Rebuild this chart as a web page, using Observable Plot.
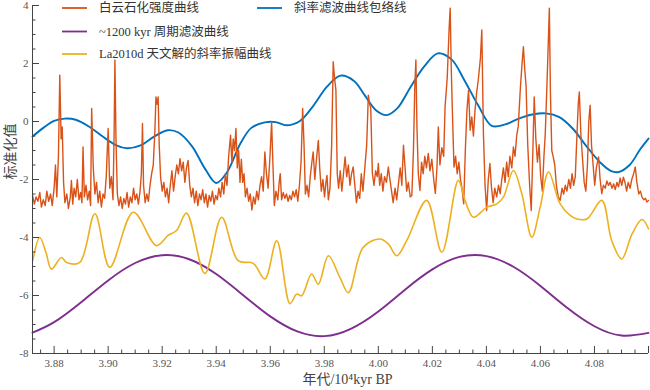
<!DOCTYPE html>
<html><head><meta charset="utf-8">
<script src="https://cdn.jsdelivr.net/npm/d3@7"></script>
<script src="https://cdn.jsdelivr.net/npm/@observablehq/plot@0.6"></script>
<style>
html,body{margin:0;padding:0;background:#fff;}
#chart{width:650px;height:390px;}
</style></head><body><div id="chart"></div>
<script>
// ---- data (age in 10^4 kyr BP, standardized value) ----
const dolomite = [
[3.8720,-2.55],[3.8727,-2.85],[3.8733,-2.60],[3.8740,-2.75],[3.8747,-2.45],[3.8753,-2.95],[3.8760,-2.70],[3.8767,-2.90],[3.8773,-2.40],[3.8780,-2.75],[3.8787,-2.50],[3.8793,-2.90],[3.8800,-2.30],[3.8805,-1.50],[3.8810,-2.60],[3.8816,-1.20],[3.8821,1.60],[3.8826,-0.60],[3.8830,-0.19],[3.8835,-2.10],[3.8840,-2.80],[3.8847,-2.50],[3.8853,-3.00],[3.8860,-2.60],[3.8864,-2.03],[3.8869,-2.85],[3.8874,-2.30],[3.8880,-2.60],[3.8886,-2.00],[3.8892,-2.70],[3.8898,-2.45],[3.8903,-2.80],[3.8907,-0.88],[3.8912,-2.60],[3.8918,-2.20],[3.8924,-2.70],[3.8930,-2.40],[3.8935,-2.90],[3.8939,0.45],[3.8945,-1.60],[3.8951,-2.50],[3.8957,-2.10],[3.8963,-2.80],[3.8969,-2.40],[3.8975,-2.95],[3.8981,-2.50],[3.8987,-2.65],[3.8993,-1.90],[3.9000,-0.24],[3.9006,-2.30],[3.9012,-1.90],[3.9018,-2.70],[3.9022,-0.50],[3.9025,2.12],[3.9029,-0.60],[3.9034,-2.50],[3.9040,-2.90],[3.9046,-2.60],[3.9052,-3.00],[3.9058,-2.65],[3.9064,-2.85],[3.9070,-2.45],[3.9076,-2.95],[3.9082,-2.60],[3.9088,-2.80],[3.9094,-2.30],[3.9100,-2.70],[3.9106,-2.50],[3.9112,-2.85],[3.9118,-2.40],[3.9123,-1.80],[3.9127,-0.07],[3.9131,-2.20],[3.9137,-2.80],[3.9143,-2.50],[3.9149,-2.75],[3.9155,-2.20],[3.9161,-1.80],[3.9167,-1.50],[3.9173,-0.30],[3.9177,0.85],[3.9181,0.60],[3.9185,0.85],[3.9189,-0.80],[3.9194,-1.90],[3.9200,-2.40],[3.9206,-2.10],[3.9212,-2.60],[3.9218,-2.30],[3.9224,-2.80],[3.9230,-2.20],[3.9236,-1.70],[3.9242,-2.40],[3.9248,-1.90],[3.9254,-1.50],[3.9260,-1.80],[3.9266,-1.28],[3.9272,-1.70],[3.9278,-1.40],[3.9284,-2.10],[3.9290,-1.60],[3.9296,-1.34],[3.9302,-2.20],[3.9308,-2.60],[3.9314,-2.30],[3.9320,-2.80],[3.9326,-2.40],[3.9332,-2.90],[3.9338,-2.50],[3.9344,-2.70],[3.9350,-2.35],[3.9356,-2.80],[3.9362,-2.50],[3.9368,-2.95],[3.9374,-2.55],[3.9380,-2.75],[3.9386,-2.40],[3.9392,-2.85],[3.9398,-2.55],[3.9404,-2.70],[3.9410,-2.30],[3.9416,-2.60],[3.9422,-2.10],[3.9428,-2.50],[3.9434,-1.80],[3.9440,-2.20],[3.9446,-1.20],[3.9453,-0.47],[3.9458,-1.40],[3.9463,-0.60],[3.9468,-1.00],[3.9473,-0.24],[3.9478,-1.60],[3.9483,-1.00],[3.9488,-2.10],
[3.9493,-1.30],[3.9498,-2.10],[3.9503,-1.80],[3.9508,-2.60],[3.9514,-2.30],[3.9520,-2.75],[3.9526,-2.50],[3.9532,-3.05],[3.9538,-2.60],[3.9544,-2.85],[3.9550,-2.40],[3.9556,-2.70],[3.9562,-2.20],[3.9568,-1.90],[3.9574,-2.40],[3.9580,-1.05],[3.9586,-1.80],[3.9592,-2.30],[3.9599,-1.20],[3.9605,-0.01],[3.9610,-1.50],[3.9615,-2.90],[3.9621,-2.40],[3.9628,-2.70],[3.9633,-2.10],[3.9637,-1.80],[3.9642,-2.70],[3.9648,-2.45],[3.9654,-2.65],[3.9660,-2.50],[3.9666,-2.75],[3.9672,-2.55],[3.9678,-2.70],[3.9684,-2.40],[3.9690,-2.60],[3.9696,-2.35],[3.9702,-2.75],[3.9708,-2.20],[3.9714,-1.40],[3.9720,0.45],[3.9725,-0.80],[3.9730,-2.50],[3.9736,-2.20],[3.9742,-2.60],[3.9748,-1.90],[3.9754,-1.40],[3.9759,-1.05],[3.9765,-2.00],[3.9771,-1.30],[3.9778,-0.65],[3.9783,-1.60],[3.9789,-2.40],[3.9795,-2.00],[3.9801,-2.60],[3.9806,-2.10],[3.9810,-1.86],[3.9815,-2.70],[3.9821,-2.30],[3.9827,-0.90],[3.9833,2.06],[3.9838,1.50],[3.9843,1.08],[3.9848,-1.80],[3.9853,-2.30],[3.9859,-1.70],[3.9865,-2.40],[3.9871,-1.80],[3.9877,-1.22],[3.9883,-1.90],[3.9889,-1.50],[3.9895,-2.20],[3.9901,-1.80],[3.9907,-1.57],[3.9913,-2.20],[3.9919,-2.80],[3.9925,-2.40],[3.9931,-2.65],[3.9937,-1.80],[3.9943,-2.40],[3.9950,-1.60],[3.9957,-0.80],[3.9963,0.91],[3.9968,0.60],[3.9972,0.45],[3.9978,-1.80],[3.9984,-2.20],[3.9990,-1.70],[3.9996,-1.90],[4.0000,-1.45],[4.0005,-2.20],[4.0011,-1.80],[4.0017,-2.40],[4.0023,-1.90],[4.0030,-2.10],[4.0037,-1.57],[4.0043,-2.00],[4.0049,-2.40],[4.0055,-2.80],[4.0062,-2.30],[4.0068,-2.70],[4.0075,-2.10],[4.0081,-1.60],[4.0087,-2.20],[4.0093,-0.82],[4.0099,-1.60],[4.0105,-2.40],[4.0111,-2.10],[4.0118,-2.60],[4.0124,-2.55],[4.0130,-1.00],[4.0135,1.20],[4.0139,2.12],[4.0143,-0.20],[4.0148,-1.80],[4.0154,-2.38],[4.0160,-1.40],[4.0166,-1.80],[4.0172,-1.20],[4.0178,-1.60],[4.0185,-1.10],[4.0191,-1.70],[4.0198,-1.30],[4.0205,-2.00],[4.0211,-2.48],[4.0217,-1.60],[4.0222,-0.19],[4.0228,-1.50],[4.0235,-0.90],[4.0242,-1.20],[4.0247,0.50],[4.0255,1.50],[4.0262,3.20],[4.0266,3.91],[4.0270,1.80],[4.0274,0.39],[4.0280,-1.57],[4.0286,-1.20],[4.0292,-1.80],[4.0298,-1.40],[4.0304,-2.00],[4.0309,-2.26],[4.0316,-2.84],[4.0322,-1.00],[4.0328,0.40],[4.0334,1.08],[4.0340,-0.30],[4.0346,0.16],[4.0352,-0.50],[4.0358,0.40],[4.0364,1.00],[4.0370,1.43],[4.0378,2.20],[4.0383,3.16],[4.0389,-0.41],[4.0395,-2.20],[4.0401,-3.07],[4.0407,-2.00],[4.0413,-1.45],[4.0419,-2.30],[4.0425,-2.80],[4.0431,-2.30],[4.0438,-2.60],[4.0445,-2.20],[4.0451,-2.49],[4.0457,-2.00],[4.0463,-1.60],[4.0469,-2.10],[4.0475,-1.40],[4.0481,-1.90],[4.0487,-1.20],[4.0494,-1.60],[4.0500,-0.88],[4.0506,-1.20],[4.0512,-0.50],[4.0518,-0.16],[4.0526,1.20],[4.0532,2.00],[4.0537,2.58],[4.0542,1.80],[4.0547,1.20],[4.0553,-0.80],[4.0560,-2.20],[4.0566,-3.07],[4.0572,-1.00],[4.0577,0.85],[4.0583,-0.60],[4.0589,-1.40],[4.0595,-0.80],[4.0601,-1.90],[4.0607,-2.40],[4.0613,-1.20],[4.0618,-0.40],[4.0625,1.50],[4.0630,3.00],[4.0633,3.91],[4.0637,1.00],[4.0642,-1.00],[4.0647,-1.20],[4.0653,-1.50],[4.0659,-2.20],[4.0666,-2.60],[4.0673,-2.72],[4.0680,-2.30],[4.0686,-2.50],[4.0692,-2.20],[4.0698,-2.40],[4.0705,-2.00],[4.0711,-2.30],[4.0717,-1.80],[4.0723,-2.20],[4.0729,-1.90],[4.0735,-0.50],[4.0740,0.60],[4.0744,1.02],[4.0750,-0.50],[4.0756,-1.30],[4.0762,-2.10],[4.0768,-2.40],[4.0774,-1.50],[4.0779,0.00],[4.0784,0.56],[4.0789,-0.80],[4.0795,-1.50],[4.0801,-2.20],[4.0807,-1.60],[4.0815,-1.22],[4.0821,-2.00],[4.0827,-2.49],[4.0833,-2.20],[4.0840,-2.30],[4.0846,-2.05],[4.0852,-2.20],[4.0858,-2.10],[4.0865,-2.30],[4.0871,-2.15],[4.0877,-2.35],[4.0883,-2.10],[4.0889,-2.25],[4.0895,-1.95],[4.0901,-2.20],[4.0907,-1.92],[4.0913,-2.10],[4.0919,-2.40],[4.0925,-2.10],[4.0932,-2.30],[4.0938,-2.00],[4.0945,-1.80],[4.0951,-1.57],[4.0957,-2.10],[4.0964,-2.50],[4.0970,-2.40],[4.0976,-2.61],[4.0983,-2.70],[4.0989,-2.65],[4.0994,-2.78],[4.1000,-2.72]
];
const envelope = [
[3.872,-0.52],[3.876,-0.22],[3.880,0.02],[3.884,0.10],[3.888,0.06],[3.893,-0.18],[3.898,-0.52],[3.903,-0.82],[3.907,-0.92],[3.912,-0.82],[3.917,-0.52],[3.922,-0.30],[3.926,-0.38],[3.931,-0.85],[3.936,-1.65],[3.940,-2.12],[3.944,-1.75],[3.949,-0.75],[3.953,-0.22],[3.958,-0.03],[3.962,-0.02],[3.966,-0.13],[3.971,0.02],[3.976,0.55],[3.981,1.20],[3.986,1.58],[3.991,1.40],[3.995,0.90],[3.999,0.40],[4.003,0.22],[4.007,0.45],[4.012,1.20],[4.017,1.90],[4.022,2.35],[4.027,2.15],[4.032,1.40],[4.037,0.55],[4.042,-0.15],[4.047,-0.10],[4.052,0.10],[4.057,0.24],[4.062,0.28],[4.067,0.15],[4.072,-0.25],[4.077,-0.85],[4.082,-1.40],[4.086,-1.70],[4.089,-1.74],[4.093,-1.50],[4.097,-0.95],[4.100,-0.59]
];
const filter1200 = [
[3.872,-7.28],[3.880,-6.92],[3.890,-6.23],[3.900,-5.48],[3.910,-4.88],[3.920,-4.61],[3.930,-4.75],[3.940,-5.26],[3.950,-5.99],[3.960,-6.72],[3.970,-7.24],[3.980,-7.40],[3.990,-7.14],[4.000,-6.55],[4.010,-5.79],[4.020,-5.10],[4.030,-4.67],[4.040,-4.64],[4.050,-5.01],[4.060,-5.67],[4.070,-6.43],[4.080,-7.06],[4.090,-7.38],[4.100,-7.29]
];
const la2010d = [
[3.8721,-4.80],[3.8747,-4.00],[3.8770,-4.52],[3.8790,-5.09],[3.8827,-4.69],[3.8846,-4.86],[3.8895,-4.86],[3.8951,-3.18],[3.9006,-5.03],[3.9093,-3.13],[3.9179,-4.28],[3.9222,-3.93],[3.9253,-3.76],[3.9290,-3.16],[3.9358,-5.24],[3.9420,-3.30],[3.9481,-4.80],[3.9537,-4.89],[3.9580,-5.43],[3.9624,-4.11],[3.9673,-6.28],[3.9698,-5.95],[3.9716,-6.01],[3.9753,-5.26],[3.9778,-5.61],[3.9815,-4.63],[3.9858,-5.38],[3.9889,-5.90],[3.9944,-4.34],[4.0006,-4.05],[4.0037,-4.22],[4.0068,-4.63],[4.0105,-4.11],[4.0179,-2.72],[4.0235,-4.51],[4.0296,-2.03],[4.0321,-2.72],[4.0352,-3.30],[4.0401,-2.96],[4.0439,-2.84],[4.0463,-2.61],[4.0500,-1.69],[4.0531,-2.49],[4.0568,-3.99],[4.0599,-2.96],[4.0630,-1.74],[4.0673,-2.84],[4.0710,-3.24],[4.0735,-3.36],[4.0772,-3.36],[4.0827,-2.72],[4.0864,-4.11],[4.0901,-4.74],[4.0939,-3.88],[4.0976,-3.38],[4.1000,-3.70]
];
const xDomain = [3.872, 4.1];
const yDomain = [-8, 4];
const xMajor = [3.88,3.90,3.92,3.94,3.96,3.98,4.00,4.02,4.04,4.06,4.08,4.10];
const xLabels = [3.88,3.90,3.92,3.94,3.96,3.98,4.00,4.02,4.04,4.06,4.08];
const yMajor = [-8,-6,-4,-2,0,2,4];
const xMinor = d3.range(3.875, 4.1, 0.005).filter(v => Math.abs(v*100 - Math.round(v*100)) > 0.1 || Math.round(v*100)%2 !== 0);
const yMinor = d3.range(-7.5, 4, 0.5).filter(v => v % 2 !== 0);
const seriesNames = ["白云石化强度曲线", "~1200 kyr 周期滤波曲线", "La2010d 天文解的斜率振幅曲线", "斜率滤波曲线包络线"];
const seriesColors = ["#D95319", "#7E2F8E", "#EDB120", "#0072BD"];
const xTitle = "年代/10⁴kyr BP";
const yTitle = "标准化值";

// ---- layout ----
const W = 650, H = 390, mL = 32, mR = 2, mT = 5, mB = 37;
const frameW = W - mL - mR, frameH = H - mT - mB;
const font = "Liberation Serif, Noto Sans CJK SC, serif";
const axisColor = "#444";
const textColor = "#444";

const plot = Plot.plot({
  width: W, height: H,
  marginLeft: mL, marginRight: mR, marginTop: mT, marginBottom: mB,
  x: {domain: xDomain},
  y: {domain: yDomain},
  style: {background: "#fff", overflow: "visible"},
  marks: [
    Plot.line(envelope, {x: d => d[0], y: d => d[1], stroke: seriesColors[3], strokeWidth: 1.9, curve: "catmull-rom"}),
    Plot.line(filter1200, {x: d => d[0], y: d => d[1], stroke: seriesColors[1], strokeWidth: 1.9, curve: "natural"}),
    Plot.line(dolomite, {x: d => d[0], y: d => d[1], stroke: seriesColors[0], strokeWidth: 1.4, strokeLinejoin: "round"}),
    Plot.line(la2010d, {x: d => d[0], y: d => d[1], stroke: seriesColors[2], strokeWidth: 1.6, curve: "catmull-rom"}),
    Plot.ruleY([yDomain[0]], {stroke: axisColor}),
    Plot.ruleX([xDomain[0]], {stroke: axisColor}),
    Plot.tickX(xMajor, {x: d => d, insetTop: frameH - 7, stroke: axisColor}),
    Plot.tickX(xMinor, {x: d => d, insetTop: frameH - 3.5, stroke: axisColor}),
    Plot.tickY(yMajor, {y: d => d, insetRight: frameW - 7, stroke: axisColor}),
    Plot.tickY(yMinor, {y: d => d, insetRight: frameW - 3.5, stroke: axisColor}),
    Plot.axisX(xLabels, {tickSize: 0, tickPadding: 6, tickFormat: d => d.toFixed(2), fontSize: 11, fontFamily: font, fill: "#555", label: null}),
    Plot.axisY(yMajor, {tickSize: 0, tickPadding: 4, tickFormat: d => String(d), fontSize: 11, fontFamily: font, fill: "#555", label: null}),
    Plot.text([yTitle], {frameAnchor: "left", rotate: -90, dx: -22, fontSize: 14, fontFamily: font, fill: textColor}),
    Plot.text([xTitle], {frameAnchor: "bottom", dx: 7, dy: 30, fontSize: 14, fontFamily: font, fill: textColor})
  ]
});
document.getElementById("chart").appendChild(plot);

// ---- legend ----
const svg = d3.select(plot);
svg.selectAll("text").style("font-family", font);
const lg = svg.append("g").style("font-family", font).attr("font-size", 12.5).attr("fill", "#333").attr("text-anchor", "start");
const legendPos = [
  {x: 62, y: 8}, {x: 62, y: 31.5}, {x: 62, y: 54}, {x: 257, y: 8}
];
seriesNames.forEach((name, i) => {
  const p = legendPos[i];
  lg.append("line").attr("x1", p.x).attr("x2", p.x + 25).attr("y1", p.y).attr("y2", p.y)
    .attr("stroke", seriesColors[i]).attr("stroke-width", 1.8);
  lg.append("text").attr("x", p.x + 37).attr("y", p.y).attr("dy", "0.35em").attr("text-anchor", "start").text(name);
});
</script>
</body></html>
